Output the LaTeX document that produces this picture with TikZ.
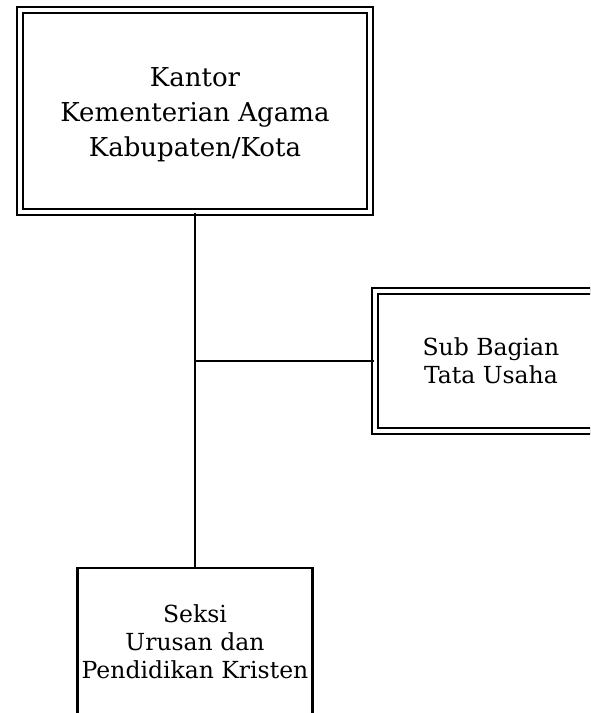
\documentclass[tikz,border=0pt]{standalone}
\usepackage{fontspec}
\setmainfont{DejaVu Serif}
\begin{document}
\begin{tikzpicture}[x=1pt,y=-1pt,
  dbox/.style={draw, line width=2.3pt, double, double distance=3.6pt, inner sep=0pt},
  sbox/.style={draw, line width=2.3pt, inner sep=0pt},
  txt/.style={align=center, inner sep=0pt},
  conn/.style={line width=2.5pt}]
\useasboundingbox (0,0) rectangle (590,713);
\clip (0,0) rectangle (590,713);
\node[dbox, minimum width=350pt, minimum height=202pt] (top) at (195,111) {};
\node[txt, font=\fontsize{26}{35}\selectfont] (toptext) at ([yshift=-3.5pt]top.center)
  {Kantor\\Kementerian Agama\\Kabupaten/Kota};
\node[dbox, minimum width=232pt, minimum height=140pt] (sub) at (491,361) {};
\node[txt, font=\fontsize{23.5}{28}\selectfont] (subtext) at (sub.center)
  {Sub Bagian\\Tata Usaha};
\node[sbox, minimum width=235pt, minimum height=160pt] (sek) at (195,648) {};
\node[txt, font=\fontsize{23.5}{28}\selectfont] (sektext) at ([yshift=6pt]sek.center)
  {Seksi\\Urusan dan\\Pendidikan Kristen};
\draw[conn] (top.south) -- (sek.north);
\coordinate (j) at (top.south |- sub.west);
\draw[line width=2.2pt] (j) -- (sub.west);
\end{tikzpicture}
\end{document}
